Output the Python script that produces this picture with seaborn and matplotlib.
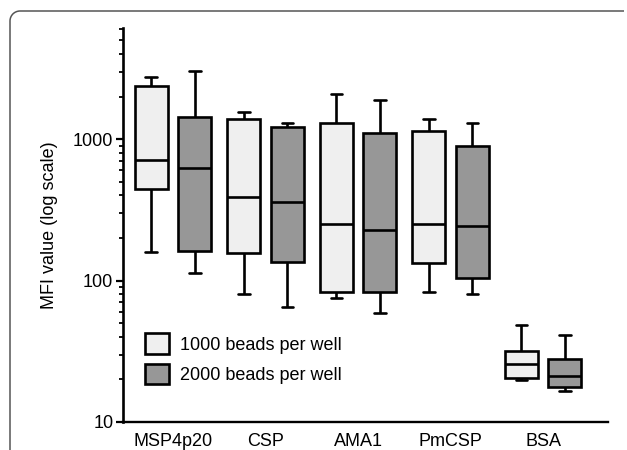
import matplotlib
matplotlib.use("Agg")
import matplotlib.pyplot as plt
import numpy as np
import pandas as pd
import seaborn as sns
from matplotlib.lines import Line2D
from matplotlib.patches import Arc, Patch
from matplotlib.ticker import FixedLocator, FixedFormatter, NullFormatter, LogLocator

# antigens on the x axis
antigens = ["MSP4p20", "CSP", "AMA1", "PmCSP", "BSA"]
groups = ["1000 beads per well", "2000 beads per well"]

# five-number summaries (min, q1, median, q3, max)
beads_1000 = [
    [159, 443, 711, 2371, 2742],
    [80, 156, 389, 1384, 1552],
    [75, 83, 251, 1297, 2080],
    [83, 133, 251, 1139, 1384],
    [19.8, 20.5, 25.7, 31.8, 48.5],
]
beads_2000 = [
    [113, 162, 624, 1430, 3024],
    [65, 135, 359, 1216, 1297],
    [59, 83, 228, 1103, 1887],
    [80, 104, 243, 893, 1297],
    [16.6, 17.7, 21.1, 27.9, 41.2],
]

light = "#efefef"
dark = "#979797"

rows = []
for antigen, lo, hi in zip(antigens, beads_1000, beads_2000):
    for v in lo:
        rows.append({"antigen": antigen, "beads": groups[0], "mfi": v})
    for v in hi:
        rows.append({"antigen": antigen, "beads": groups[1], "mfi": v})
df = pd.DataFrame(rows)

sns.set_style("ticks")
plt.rcParams["font.family"] = ["Liberation Sans", "DejaVu Sans"]
plt.rcParams["text.color"] = "black"
plt.rcParams["axes.labelcolor"] = "black"
plt.rcParams["xtick.color"] = "black"
plt.rcParams["ytick.color"] = "black"

fig = plt.figure(figsize=(6.27, 4.5), dpi=100)
ax = fig.add_axes([123 / 627, 28 / 450, 485 / 627, 394 / 450])

sns.boxplot(
    data=df,
    x="antigen",
    y="mfi",
    hue="beads",
    order=antigens,
    hue_order=groups,
    palette=[light, dark],
    width=0.94,
    gap=0.24,
    whis=(0, 100),
    linecolor="black",
    linewidth=1.9,
    log_scale=True,
    capwidths=0.125,
    legend=False,
    ax=ax,
)

ax.set_ylim(10, 6100)
ax.set_xlim(-0.54, 4.70)
ax.yaxis.set_major_locator(FixedLocator([10, 100, 1000]))
ax.yaxis.set_major_formatter(FixedFormatter(["10", "100", "1000"]))
ax.yaxis.set_minor_locator(LogLocator(base=10, subs=np.arange(2, 10)))
ax.yaxis.set_minor_formatter(NullFormatter())

for side in ["top", "right"]:
    ax.spines[side].set_visible(False)
ax.spines["left"].set_linewidth(1.9)
ax.spines["bottom"].set_linewidth(1.7)
ax.spines["left"].set_color("black")
ax.spines["bottom"].set_color("black")

ax.tick_params(axis="y", which="major", length=5, width=1.6, pad=2,
               labelsize=13, labelcolor="black", color="black")
ax.tick_params(axis="y", which="minor", length=3, width=1.3, color="black")
ax.tick_params(axis="x", length=0, pad=8, labelsize=13, labelcolor="black")
ax.set_xlabel("")
ax.set_ylabel("MFI value (log scale)", fontsize=13, labelpad=11, color="black")

handles = [
    Patch(facecolor=light, edgecolor="black", linewidth=1.9, label=groups[0]),
    Patch(facecolor=dark, edgecolor="black", linewidth=1.9, label=groups[1]),
]
ax.legend(
    handles=handles,
    loc="upper left",
    bbox_to_anchor=(0.045, 0.225),
    frameon=False,
    fontsize=13,
    handlelength=1.35,
    handleheight=1.35,
    handletextpad=0.6,
    labelspacing=0.55,
    borderpad=0,
    borderaxespad=0,
)

# rounded panel frame (top-left corner only), in pixel coordinates
overlay = fig.add_axes([0, 0, 1, 1], zorder=-1)
overlay.set_xlim(0, 627)
overlay.set_ylim(450, 0)
overlay.axis("off")
frame_color = "#555555"
r = 10
overlay.add_line(Line2D([10, 10], [11 + r, 450], color=frame_color, lw=1.1,
                        solid_capstyle="butt"))
overlay.add_line(Line2D([10 + r, 624], [11, 11], color=frame_color, lw=1.1,
                        solid_capstyle="butt"))
overlay.add_patch(Arc((10 + r, 11 + r), 2 * r, 2 * r, theta1=180, theta2=270,
                      color=frame_color, lw=1.1))

fig.savefig("out.png", dpi=100)
